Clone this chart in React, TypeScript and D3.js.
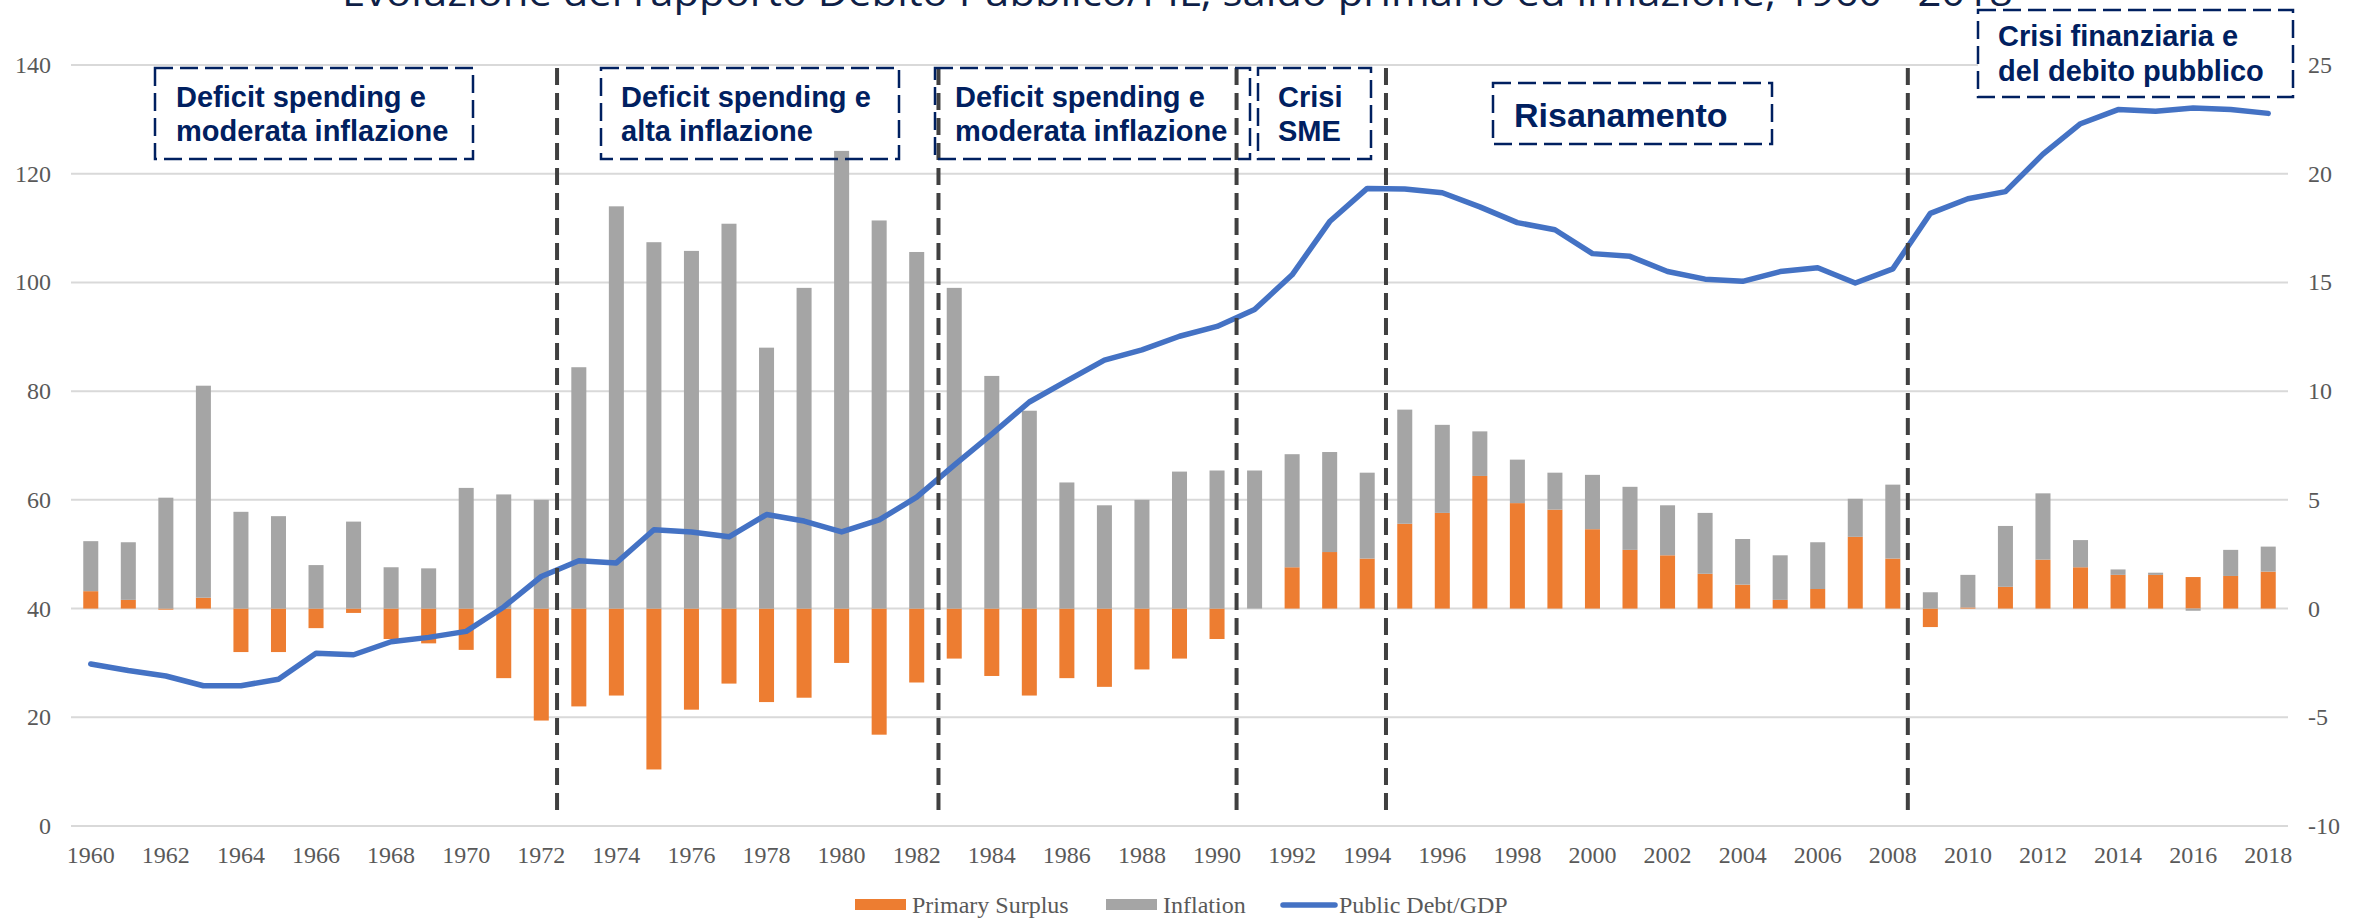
import * as d3 from 'd3';
import { useEffect, useRef } from 'react';

const years = d3.range(1960, 2019);

// saldo primario (% PIL), asse destro
const primarySurplus = [
  0.8, 0.4, -0.05, 0.5, -2.0, -2.0, -0.9, -0.2, -1.4, -1.6,
  -1.9, -3.2, -5.15, -4.5, -4.0, -7.4, -4.65, -3.45, -4.3, -4.1,
  -2.5, -5.8, -3.4, -2.3, -3.1, -4.0, -3.2, -3.6, -2.8, -2.3,
  -1.4, 0.0, 1.9, 2.6, 2.3, 3.9, 4.4, 6.1, 4.85, 4.55,
  3.65, 2.7, 2.45, 1.6, 1.1, 0.4, 0.9, 3.3, 2.3, -0.85,
  0.05, 1.0, 2.25, 1.9, 1.55, 1.55, 1.45, 1.5, 1.7,
];

// inflazione (%), asse destro
const inflation = [
  2.3, 2.65, 5.1, 9.75, 4.45, 4.25, 2.0, 4.0, 1.9, 1.85,
  5.55, 5.25, 5.0, 11.1, 18.5, 16.85, 16.45, 17.7, 12.0, 14.75,
  21.05, 17.85, 16.4, 14.75, 10.7, 9.1, 5.8, 4.75, 5.0, 6.3,
  6.35, 6.35, 5.2, 4.6, 3.95, 5.25, 4.05, 2.05, 2.0, 1.7,
  2.5, 2.9, 2.3, 2.8, 2.1, 2.05, 2.15, 1.75, 3.4, 0.75,
  1.5, 2.8, 3.05, 1.25, 0.25, 0.1, -0.1, 1.2, 1.15,
];

// debito pubblico / PIL (%), asse sinistro
const publicDebt = [
  29.8, 28.6, 27.6, 25.8, 25.8, 27.0, 31.8, 31.5, 33.9, 34.7,
  35.8, 40.3, 45.9, 48.8, 48.4, 54.5, 54.1, 53.2, 57.3, 56.1,
  54.1, 56.3, 60.5, 66.4, 72.1, 78.0, 81.9, 85.7, 87.6, 90.1,
  91.9, 95.0, 101.4, 111.2, 117.3, 117.2, 116.5, 113.9, 111.0, 109.7,
  105.3, 104.8, 102.0, 100.6, 100.2, 102.0, 102.7, 99.9, 102.5, 112.7,
  115.4, 116.7, 123.6, 129.2, 131.8, 131.5, 132.1, 131.8, 131.1,
];

const leftTicks = [0, 20, 40, 60, 80, 100, 120, 140];
const rightTicks = [-10, -5, 0, 5, 10, 15, 20, 25];
const yearTicks = years.filter((y) => y % 2 === 0);

// fasi (anni di separazione)
const phaseBreaks = [1972.42, 1982.58, 1990.52, 1994.5, 2008.4];

const titleText =
  'Evoluzione del rapporto Debito Pubblico/PIL, saldo primario ed inflazione, 1960 - 2018';

const phaseLabels = [
  ['Deficit spending e', 'moderata inflazione'],
  ['Deficit spending e', 'alta inflazione'],
  ['Deficit spending e', 'moderata inflazione'],
  ['Crisi', 'SME'],
  ['Risanamento'],
  ['Crisi finanziaria e', 'del debito pubblico'],
];

const legendLabels = ['Primary Surplus', 'Inflation', 'Public Debt/GDP'];

const dims = {
  width: 2366,
  height: 919,
  left: 72,
  right: 2287,
  top: 65,
  bottom: 826,
};

// box layout for the phase notes
const noteLayout = [
  { x: 155, y: 68, w: 318, h: 91, tx: 176, lines: [107, 141], size: 29, fill: 'none' },
  { x: 601, y: 68, w: 298, h: 91, tx: 621, lines: [107, 141], size: 29, fill: 'none' },
  { x: 935, y: 68, w: 315, h: 91, tx: 955, lines: [107, 141], size: 29, fill: 'none' },
  { x: 1258, y: 68, w: 113, h: 91, tx: 1278, lines: [107, 141], size: 29, fill: 'none' },
  { x: 1493, y: 83, w: 279, h: 61, tx: 1514, lines: [127], size: 34, fill: 'none' },
  { x: 1978, y: 10, w: 315, h: 87, tx: 1998, lines: [46, 81], size: 29, fill: '#ffffff' },
];

const colors = {
  surplus: '#ED7D31',
  inflation: '#A5A5A5',
  debt: '#4472C4',
  grid: '#D9D9D9',
  axisText: '#595959',
  note: '#002060',
  divider: '#404040',
};

const serif = "'Liberation Serif', 'Times New Roman', serif";
const sans = "'Liberation Sans', Arial, sans-serif";

export default function App() {
  const svgRef = useRef(null);

  useEffect(() => {
    document.body.style.margin = '0';
    const svg = d3.select(svgRef.current);
    svg.selectAll('*').remove();

    const xBand = d3
      .scaleBand<number>()
      .domain(years)
      .range([dims.left, dims.right])
      .paddingInner(0.6)
      .paddingOuter(0.3);

    const xCenter = (y: number) => (xBand(y) as number) + xBand.bandwidth() / 2;
    const xYear = d3
      .scaleLinear()
      .domain([1960, 2018])
      .range([xCenter(1960), xCenter(2018)]);

    const yLeft = d3.scaleLinear().domain([0, 140]).range([dims.bottom, dims.top]);
    const yRight = d3.scaleLinear().domain([-10, 25]).range([dims.bottom, dims.top]);

    // Gridlines
    svg
      .append('g')
      .selectAll('line')
      .data(leftTicks)
      .enter()
      .append('line')
      .attr('x1', dims.left - 1)
      .attr('x2', dims.right + 1)
      .attr('y1', (d) => yLeft(d))
      .attr('y2', (d) => yLeft(d))
      .style('stroke', colors.grid)
      .style('stroke-width', 2);

    // Stacked bars
    const rows = years.map((y, i) => ({
      year: y,
      surplus: primarySurplus[i],
      inflation: inflation[i],
    }));
    const stack = d3
      .stack<any>()
      .keys(['surplus', 'inflation'])
      .offset(d3.stackOffsetDiverging);
    const series = stack(rows);

    svg
      .append('g')
      .selectAll('g')
      .data(series)
      .enter()
      .append('g')
      .style('fill', (s) => (s.key === 'surplus' ? colors.surplus : colors.inflation))
      .selectAll('rect')
      .data((s) => s)
      .enter()
      .append('rect')
      .attr('x', (d) => xBand(d.data.year) as number)
      .attr('width', xBand.bandwidth())
      .attr('y', (d) => yRight(Math.max(d[0], d[1])))
      .attr('height', (d) => Math.abs(yRight(d[0]) - yRight(d[1])));

    // Debt line
    const line = d3
      .line<number>()
      .x((_, i) => xCenter(years[i]))
      .y((d) => yLeft(d));

    svg
      .append('path')
      .datum(publicDebt)
      .attr('d', line as any)
      .style('fill', 'none')
      .style('stroke', colors.debt)
      .style('stroke-width', 5.5)
      .style('stroke-linejoin', 'round')
      .style('stroke-linecap', 'round');

    // Phase dividers
    svg
      .append('g')
      .selectAll('line')
      .data(phaseBreaks)
      .enter()
      .append('line')
      .attr('x1', (d) => xYear(d))
      .attr('x2', (d) => xYear(d))
      .attr('y1', dims.top + 3)
      .attr('y2', dims.bottom - 12)
      .style('stroke', colors.divider)
      .style('stroke-width', 4)
      .style('stroke-dasharray', '17 8');

    // Phase notes
    const notes = svg
      .append('g')
      .selectAll('g')
      .data(phaseLabels)
      .enter()
      .append('g');

    notes
      .append('rect')
      .attr('x', (_, i) => noteLayout[i].x)
      .attr('y', (_, i) => noteLayout[i].y)
      .attr('width', (_, i) => noteLayout[i].w)
      .attr('height', (_, i) => noteLayout[i].h)
      .style('fill', (_, i) => noteLayout[i].fill)
      .style('stroke', colors.note)
      .style('stroke-width', 2.5)
      .style('stroke-dasharray', '18 7');

    notes.each(function (lines, i) {
      const lay = noteLayout[i];
      d3.select(this)
        .selectAll('text')
        .data(lines)
        .enter()
        .append('text')
        .attr('x', lay.tx)
        .attr('y', (_, j) => lay.lines[j])
        .style('font-family', sans)
        .style('font-weight', 'bold')
        .style('font-size', lay.size + 'px')
        .style('fill', colors.note)
        .text((d) => d);
    });

    // Left axis labels
    svg
      .append('g')
      .selectAll('text')
      .data(leftTicks)
      .enter()
      .append('text')
      .attr('x', 51)
      .attr('y', (d) => yLeft(d) + 8)
      .attr('text-anchor', 'end')
      .style('font-family', serif)
      .style('font-size', '24px')
      .style('fill', colors.axisText)
      .text((d) => d);

    // Right axis labels
    svg
      .append('g')
      .selectAll('text')
      .data(rightTicks)
      .enter()
      .append('text')
      .attr('x', 2308)
      .attr('y', (d) => yRight(d) + 8)
      .attr('text-anchor', 'start')
      .style('font-family', serif)
      .style('font-size', '24px')
      .style('fill', colors.axisText)
      .text((d) => d);

    // Year labels
    svg
      .append('g')
      .selectAll('text')
      .data(yearTicks)
      .enter()
      .append('text')
      .attr('x', (d) => xCenter(d))
      .attr('y', 863)
      .attr('text-anchor', 'middle')
      .style('font-family', serif)
      .style('font-size', '24px')
      .style('fill', colors.axisText)
      .text((d) => d);

    // Legend
    const legend = svg.append('g').attr('transform', 'translate(0,905)');
    legend
      .append('rect')
      .attr('x', 855)
      .attr('y', -6)
      .attr('width', 51)
      .attr('height', 11)
      .style('fill', colors.surplus);
    legend
      .append('rect')
      .attr('x', 1106)
      .attr('y', -6)
      .attr('width', 51)
      .attr('height', 11)
      .style('fill', colors.inflation);
    legend
      .append('line')
      .attr('x1', 1283)
      .attr('x2', 1335)
      .attr('y1', 0)
      .attr('y2', 0)
      .style('stroke', colors.debt)
      .style('stroke-width', 5.5)
      .style('stroke-linecap', 'round');
    legend
      .selectAll('text')
      .data(legendLabels)
      .enter()
      .append('text')
      .attr('x', (_, i) => [912, 1163, 1339][i])
      .attr('y', 8)
      .style('font-family', serif)
      .style('font-size', '24px')
      .style('fill', colors.axisText)
      .text((d) => d);

    // Title (cut at the top, as in the original slide)
    svg
      .append('text')
      .attr('x', 342)
      .attr('y', 6)
      .attr('textLength', 1671)
      .attr('lengthAdjust', 'spacingAndGlyphs')
      .style('font-family', "'Open Sans', sans-serif")
      .style('font-size', '38px')
      .style('fill', '#0F1F47')
      .text(titleText);
  }, []);

  return (
    <div>
      <svg
        ref={svgRef}
        width={dims.width}
        height={dims.height}
        style={{ display: 'block', background: '#ffffff' }}
      ></svg>
    </div>
  );
}
